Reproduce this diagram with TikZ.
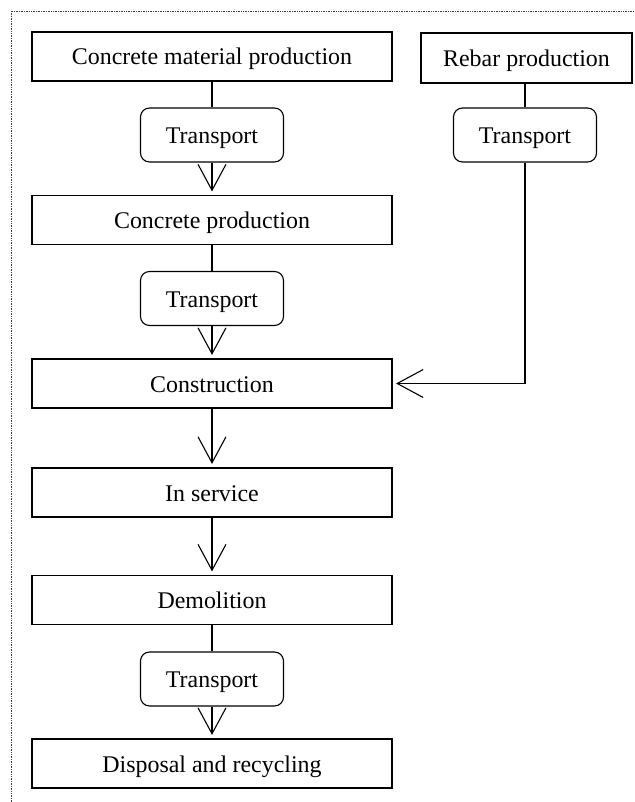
\documentclass[tikz,border=0pt]{standalone}
\usepackage{fontspec}
\setmainfont{Liberation Serif}
\usetikzlibrary{arrows.meta}
\begin{document}
\begin{tikzpicture}[x=1bp,y=-1bp,
  every node/.style={font=\fontsize{24}{28}\selectfont},
  box/.style={draw, line width=1.1bp, minimum width=360bp, minimum height=49bp, inner sep=0pt, text height=19bp, text depth=2bp},
  tbox/.style={draw, line width=1.1bp, rounded corners=9bp, minimum width=143bp, minimum height=54bp, inner sep=0pt, text height=19bp, text depth=2bp},
  conn/.style={line width=1.1bp},
  arr/.style={line width=1.1bp, -{Straight Barb[length=26bp,width=28bp]}, shorten >=3.5bp}
]
\useasboundingbox (0,0) rectangle (635,802);
\draw[densely dotted, line width=0.7bp, black!75] (11,802) -- (11,11) -- (635,11);

\node[box] (A) at (212,56.5) {Concrete material production};
\node[tbox] (T1) at (212,135) {Transport};
\node[box] (B) at (212,220) {Concrete production};
\node[tbox] (T2) at (212,298.5) {Transport};
\node[box] (C) at (212,383.5) {Construction};
\node[box] (D) at (212,492.5) {In service};
\node[box] (E) at (212,600) {Demolition};
\node[tbox] (T3) at (212,679) {Transport};
\node[box] (F) at (212,763.5) {Disposal and recycling};

\node[box, minimum width=211bp, minimum height=50bp] (R) at (526.5,58) {Rebar production};
\node[tbox] (TR) at (525,135) {Transport};

\draw[conn] (A) -- (T1);
\draw[arr] (T1) -- (B);
\draw[conn] (B) -- (T2);
\draw[arr] (T2) -- (C);
\draw[arr] (C) -- (D);
\draw[arr] (D) -- (E);
\draw[conn] (E) -- (T3);
\draw[arr] (T3) -- (F);
\draw[conn] (TR.north |- R.south) -- (TR.north);
\draw[arr] (TR.south) |- (C.east);
\end{tikzpicture}
\end{document}
